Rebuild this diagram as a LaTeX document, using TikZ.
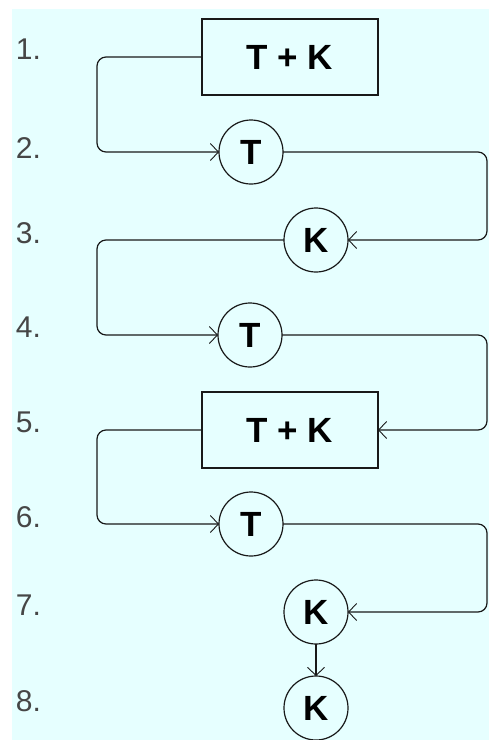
\documentclass[tikz,border=0pt]{standalone}
\usepackage{fontspec}
\setmainfont{Liberation Sans}
\usetikzlibrary{arrows.meta}
\definecolor{bgc}{RGB}{230,255,255}
\definecolor{lbl}{RGB}{70,70,70}
\definecolor{ink}{RGB}{25,25,25}
\begin{document}
\begin{tikzpicture}[x=1pt,y=-1pt,
  every node/.style={inner sep=0pt,outer sep=0pt},
  conn/.style={draw=ink,line width=1.2pt,rounded corners=9pt},
  arr/.style={-{Straight Barb[length=8pt,width=17pt,line width=0.9pt]}},
  boxnode/.style={draw=ink,line width=1.2pt,minimum width=176pt,minimum height=76pt,
    font=\fontsize{35}{40}\selectfont\bfseries},
  circ/.style={draw=ink,circle,line width=1.2pt,minimum size=64pt,
    font=\fontsize{35}{40}\selectfont\bfseries},
  lab/.style={anchor=base west,text=lbl,font=\fontsize{30}{34}\selectfont}]
\useasboundingbox (0,0) rectangle (489,740);
\fill[white] (0,0) rectangle (489,740);
\fill[bgc] (12,9) rectangle (489,740);
\coordinate (L) at (97,0);
\coordinate (R) at (487,0);
% labels
\node[lab] (n1) at (16,59) {1.};
\node[lab] (n2) at (16,158) {2.};
\node[lab] (n3) at (16,243) {3.};
\node[lab] (n4) at (16,337) {4.};
\node[lab] (n5) at (16,432) {5.};
\node[lab] (n6) at (16,527) {6.};
\node[lab] (n7) at (16,615) {7.};
\node[lab] (n8) at (16,711) {8.};
% nodes
\node[boxnode] (b1) at (290,57) {T + K};
\node[circ] (t2) at (251,152) {T};
\node[circ] (k3) at (316,240) {K};
\node[circ] (t4) at (250,335) {T};
\node[boxnode] (b5) at (290,430) {T + K};
\node[circ] (t6) at (251,524) {T};
\node[circ] (k7) at (316,612) {K};
\node[circ] (k8) at (316,708) {K};
% connectors
\draw[conn,arr] (b1.west) -- (b1.west -| L) |- (t2.west);
\draw[conn,arr] (t2.east) -- (t2.east -| R) |- (k3.east);
\draw[conn,arr] (k3.west) -- (k3.west -| L) |- (t4.west);
\draw[conn,arr] (t4.east) -- (t4.east -| R) |- (b5.east);
\draw[conn,arr] (b5.west) -- (b5.west -| L) |- (t6.west);
\draw[conn,arr] (t6.east) -- (t6.east -| R) |- (k7.east);
\draw[conn,arr] (k7.south) -- (k8.north);
\end{tikzpicture}
\end{document}
